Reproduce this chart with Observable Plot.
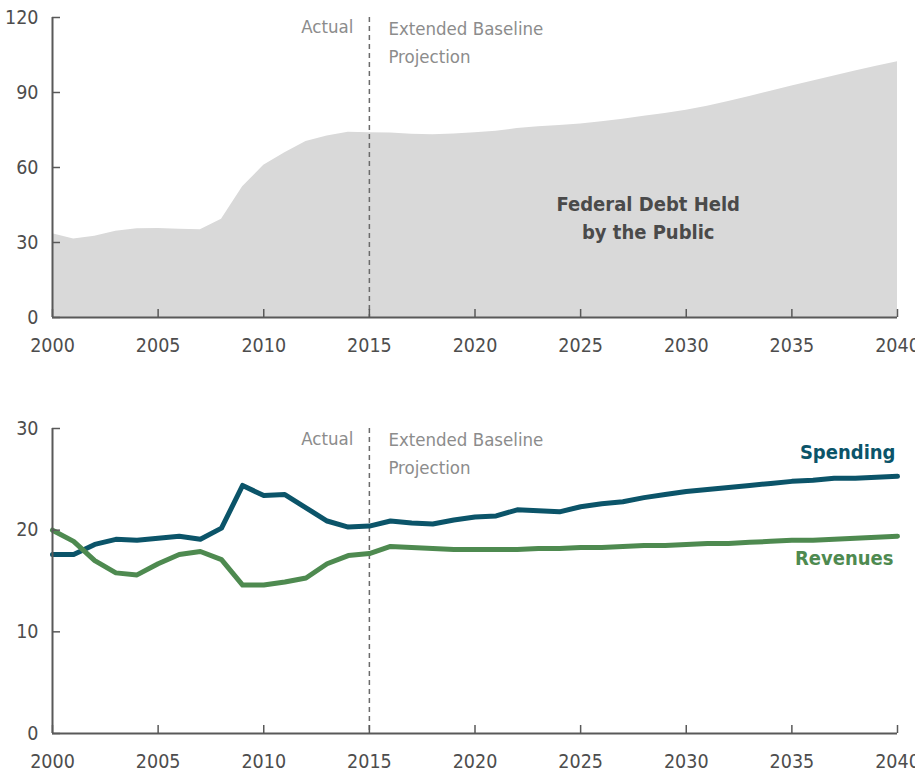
<!DOCTYPE html>
<html>
<head>
<meta charset="utf-8">
<script src="https://cdn.jsdelivr.net/npm/d3@7"></script>
<script src="https://cdn.jsdelivr.net/npm/@observablehq/plot@0.6"></script>
<style>
  html, body { margin: 0; padding: 0; background: #fff; overflow: hidden; }
  #chart svg { display: block; overflow: visible; }
</style>
</head>
<body>
<div id="chart"></div>
<script>
const years = [2000,2001,2002,2003,2004,2005,2006,2007,2008,2009,2010,2011,2012,2013,2014,2015,2016,2017,2018,2019,2020,2021,2022,2023,2024,2025,2026,2027,2028,2029,2030,2031,2032,2033,2034,2035,2036,2037,2038,2039,2040];
const debt = [33.5,31.4,32.5,34.5,35.5,35.6,35.3,35.1,39.3,52.3,60.9,65.9,70.4,72.6,74.1,73.9,73.8,73.3,73.1,73.4,73.9,74.5,75.6,76.3,76.8,77.4,78.3,79.3,80.5,81.6,82.9,84.5,86.4,88.4,90.5,92.6,94.6,96.6,98.6,100.5,102.3];
const spending = [17.6,17.6,18.6,19.1,19.0,19.2,19.4,19.1,20.2,24.4,23.4,23.5,22.2,20.9,20.3,20.4,20.9,20.7,20.6,21.0,21.3,21.4,22.0,21.9,21.8,22.3,22.6,22.8,23.2,23.5,23.8,24.0,24.2,24.4,24.6,24.8,24.9,25.1,25.1,25.2,25.3];
const revenues = [20.0,18.9,17.0,15.8,15.6,16.7,17.6,17.9,17.1,14.6,14.6,14.9,15.3,16.7,17.5,17.7,18.4,18.3,18.2,18.1,18.1,18.1,18.1,18.2,18.2,18.3,18.3,18.4,18.5,18.5,18.6,18.7,18.7,18.8,18.9,19.0,19.0,19.1,19.2,19.3,19.4];
const xTicks = [2000,2005,2010,2015,2020,2025,2030,2035,2040];
const debtTicks = [0,30,60,90,120];
const budgetTicks = [0,10,20,30];
const splitYear = 2015;
const debtLabel = "Federal Debt Held\nby the Public";

const FONT = '"DejaVu Sans Condensed", "Liberation Sans Narrow", "Arial Narrow", sans-serif';
const AXIS = "#595959";
const TICKTEXT = "#4d4d4d";
const NOTE = "#8c8c8c";
const SPEND = "#0b5469";
const REV = "#4e8a50";

const debtData = years.map((y, i) => ({year: y, value: debt[i]}));
const lineData = [
  ...years.map((y, i) => ({year: y, value: spending[i], series: "Spending"})),
  ...years.map((y, i) => ({year: y, value: revenues[i], series: "Revenues"}))
];

function axes(yTicks, ydom) {
  return [
    Plot.axisX(xTicks, {label: null, tickSize: 0, tickPadding: 21, tickFormat: d => String(d), fontSize: 19.5, fill: TICKTEXT, fontFamily: FONT}),
    Plot.axisY(yTicks, {label: null, tickSize: 0, tickPadding: 14, fontSize: 19.5, fill: TICKTEXT, fontFamily: FONT}),
    // inward tick marks
    Plot.ruleX(xTicks, {x: d => d, y1: ydom[0], y2: ydom[0], insetTop: -8, stroke: AXIS, strokeWidth: 1.5}),
    Plot.ruleY(yTicks, {y: d => d, x1: 2000, x2: 2000, insetRight: -8, stroke: AXIS, strokeWidth: 1.5}),
    Plot.ruleY([ydom[0]], {stroke: AXIS, strokeWidth: 2}),
    Plot.ruleX([2000], {stroke: AXIS, strokeWidth: 2})
  ];
}

function notes(yv) {
  return [
    Plot.ruleX([splitYear], {stroke: "#6b6b6b", strokeWidth: 1.5, strokeDasharray: "5,4"}),
    Plot.text(["Actual"], {x: splitYear, y: yv, text: d => d, textAnchor: "end", dx: -16, lineAnchor: "middle", fontSize: 18.5, fill: NOTE, fontFamily: FONT}),
    Plot.text(["Extended Baseline\nProjection"], {x: splitYear, y: yv, text: d => d, textAnchor: "start", dx: 19, lineAnchor: "top", dy: -12, lineHeight: 1.5, fontSize: 18.5, fill: NOTE, fontFamily: FONT})
  ];
}

const topChart = Plot.plot({
  width: 915,
  height: 400,
  marginLeft: 52,
  marginRight: 18,
  marginTop: 17,
  marginBottom: 83,
  style: {fontFamily: FONT, overflow: "visible"},
  x: {domain: [2000, 2040], axis: null},
  y: {domain: [0, 120], axis: null},
  marks: [
    Plot.areaY(debtData, {x: "year", y: "value", fill: "#d9d9d9"}),
    ...notes(116),
    Plot.text([debtLabel], {x: 2028.2, y: 40.7, text: d => d, fontSize: 20, fontWeight: "bold", fill: "#4a4a4a", lineHeight: 1.4, fontFamily: FONT}),
    ...axes(debtTicks, [0, 120])
  ]
});

const bottomChart = Plot.plot({
  width: 915,
  height: 374,
  marginLeft: 52,
  marginRight: 18,
  marginTop: 28,
  marginBottom: 41,
  style: {fontFamily: FONT, overflow: "visible"},
  x: {domain: [2000, 2040], axis: null},
  y: {domain: [0, 30], axis: null},
  color: {domain: ["Spending", "Revenues"], range: [SPEND, REV]},
  marks: [
    ...notes(29.0),
    Plot.lineY(lineData, {x: "year", y: "value", stroke: "series", strokeWidth: 5, strokeLinecap: "round", strokeLinejoin: "round"}),
    Plot.text(["Spending"], {x: 2040, y: 27.65, text: d => d, textAnchor: "end", dx: -2, fontSize: 20, fontWeight: "bold", fill: SPEND, fontFamily: FONT}),
    Plot.text(["Revenues"], {x: 2040, y: 17.2, text: d => d, textAnchor: "end", dx: -4, fontSize: 20, fontWeight: "bold", fill: REV, fontFamily: FONT}),
    ...axes(budgetTicks, [0, 30])
  ]
});

const c = document.getElementById("chart");
c.appendChild(topChart);
c.appendChild(bottomChart);
</script>
</body>
</html>
